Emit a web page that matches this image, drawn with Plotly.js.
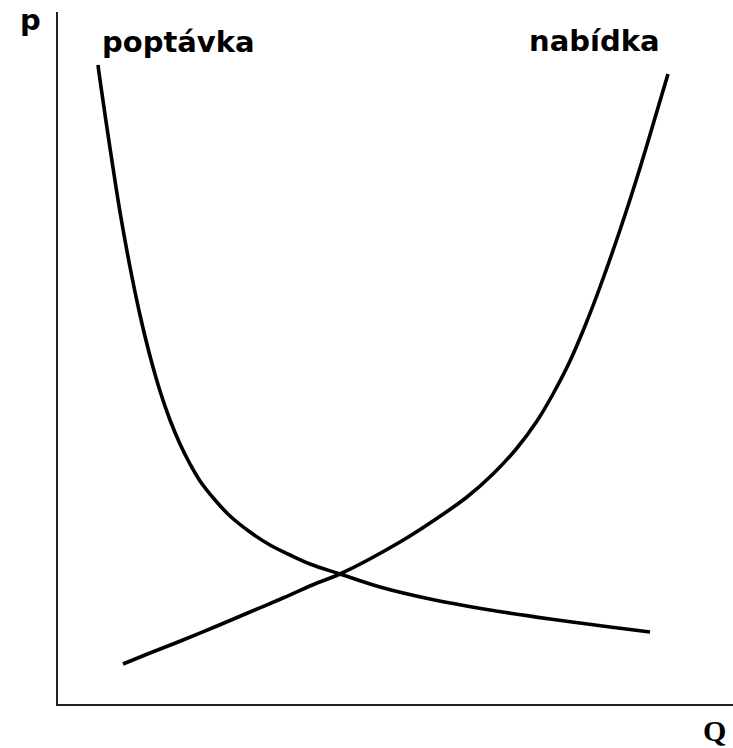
<!DOCTYPE html>
<html>
<head>
<meta charset="utf-8">
<script src="https://cdn.plot.ly/plotly-3.0.1.min.js"></script>
<style>html,body{margin:0;padding:0;background:#fff;}#chart{width:733px;height:748px;}</style>
</head>
<body>
<div id="chart"></div>
<script>
// Demand curve (poptávka): quantity Q and price p
const demandQ = [40, 42, 52, 62, 72, 82, 92, 102, 112, 122, 132, 142, 157, 172, 192, 212, 232, 252, 282, 322, 372, 432, 492, 552, 592];
const demandP = [639, 624, 556, 492, 437, 389, 348, 313, 284, 260, 240, 223, 204, 188, 172, 159, 149, 140, 130, 117, 105, 94, 85, 77, 72];
// Supply curve (nabídka)
const supplyQ = [65, 92, 125, 159, 192, 225, 259, 282, 342, 375, 409, 435, 459, 479, 495, 512, 527, 542, 562, 582, 602, 610];
const supplyP = [40, 51, 64, 78, 92, 106, 121, 130, 162, 183, 207, 230, 256, 283, 310, 343, 378, 417, 474, 536, 603, 630];
const labels = {demand: "poptávka", supply: "nabídka", xAxis: "Q", yAxis: "p"};

const W = 733, H = 748;
const L = 58, R = 733, T = 12, B = 704;
const px = x => (x - L) / (R - L);
const py = y => (B - y) / (B - T);
const font = {family: "DejaVu Sans", size: 29, color: "#000"};

const line = {color: "#000", width: 3.6, shape: "spline", smoothing: 1};
const data = [
  {x: demandQ, y: demandP, mode: "lines", line: line, hoverinfo: "skip"},
  {x: supplyQ, y: supplyP, mode: "lines", line: line, hoverinfo: "skip"}
];

const layout = {
  width: W, height: H,
  margin: {l: L, r: W - R, t: T, b: H - B, pad: 0},
  paper_bgcolor: "#fff", plot_bgcolor: "#fff",
  showlegend: false,
  xaxis: {range: [0, R - L], showline: true, linecolor: "#222", linewidth: 2,
          showgrid: false, zeroline: false, showticklabels: false, ticks: "", fixedrange: true},
  yaxis: {range: [0, B - T], showline: true, linecolor: "#222", linewidth: 2,
          showgrid: false, zeroline: false, showticklabels: false, ticks: "", fixedrange: true},
  annotations: [
    {text: "<b>" + labels.demand + "</b>", xref: "paper", yref: "paper", x: px(100), y: py(42),
     xanchor: "left", yanchor: "middle", showarrow: false, font: font},
    {text: "<b>" + labels.supply + "</b>", xref: "paper", yref: "paper", x: px(527), y: py(41),
     xanchor: "left", yanchor: "middle", showarrow: false, font: font},
    {text: "<b>" + labels.yAxis + "</b>", xref: "paper", yref: "paper", x: px(30), y: py(20),
     xanchor: "center", yanchor: "middle", showarrow: false, font: font},
    {text: "<b>" + labels.xAxis + "</b>", xref: "paper", yref: "paper", x: px(714), y: py(730),
     xanchor: "center", yanchor: "middle", showarrow: false,
     font: {family: "Liberation Serif", size: 30, color: "#000"}}
  ]
};

Plotly.newPlot("chart", data, layout, {displayModeBar: false, staticPlot: true});
</script>
</body>
</html>
